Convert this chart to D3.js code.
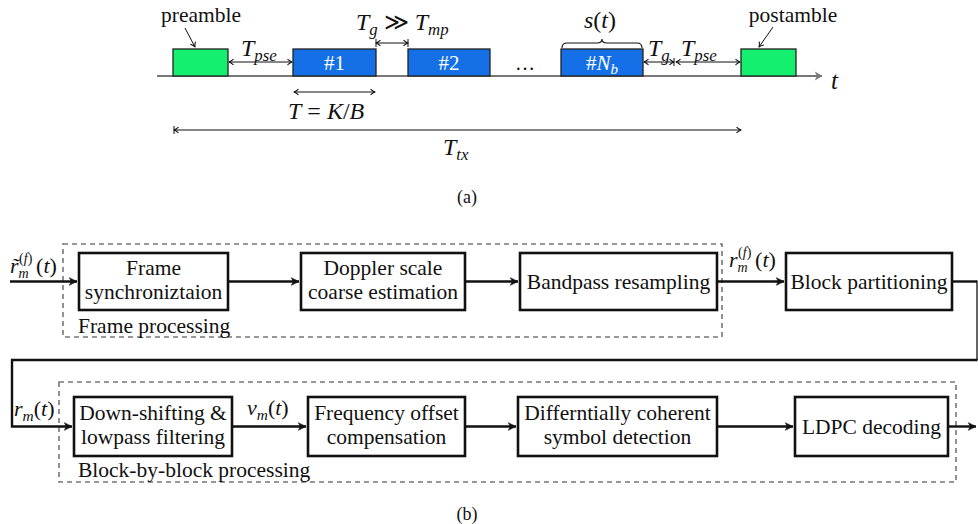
<!DOCTYPE html>
<html><head><meta charset="utf-8">
<script src="https://cdn.jsdelivr.net/npm/d3@7"></script>
<style>
html,body{margin:0;padding:0;background:#fff;}
svg text{font-family:'Liberation Serif','DejaVu Serif','Noto Serif',serif;fill:#111;}
.it{font-style:italic;}
</style></head><body>
<svg id="chart" width="978" height="524"></svg>
<script>
// ---------- DATA ----------
// (a) frame structure on time axis (time units)
const timeAxisRange = [0, 667];
const segNames = ["preamble", "#1", "#2", "#Nb", "postamble"];
const segStart = [16, 136, 251, 404, 584];
const segEnd   = [71, 219, 333, 486, 639];
const segKind  = ["pilot", "block", "block", "block", "pilot"];
const guardEnd = 518;
// (b) processing chain
const row1Stages = [["Frame", "synchroniztaion"], ["Doppler scale", "coarse estimation"], ["Bandpass resampling"], ["Block partitioning"]];
const row2Stages = [["Down-shifting &", "lowpass filtering"], ["Frequency offset", "compensation"], ["Differntially coherent", "symbol detection"], ["LDPC decoding"]];
const groupLabels = ["Frame processing", "Block-by-block processing"];
const captions = ["(a)", "(b)"];

// ---------- LAYOUT ----------
const row1X = [[79, 228], [301, 465], [520, 717], [786, 952]];
const row2X = [[74, 232], [308, 465], [518, 717], [795, 948]];
const row1Y = [253, 310], row2Y = [397, 456];
const FS = 21.5;

const svg = d3.select("#chart");
const x = d3.scaleLinear().domain(timeAxisRange).range([157, 824]);
const COL = {pilot: "#14ef6e", block: "#1570e8"};

const defs = svg.append("defs");
function marker(id, path, w, color, fill) {
  defs.append("marker").attr("id", id).attr("viewBox", "-8 -5 10 10")
    .attr("refX", 0).attr("refY", 0).attr("markerWidth", w).attr("markerHeight", w)
    .attr("markerUnits", "userSpaceOnUse").attr("orient", "auto-start-reverse")
    .append("path").attr("d", path).attr("fill", fill ? color : "none")
    .attr("stroke", color).attr("stroke-width", fill ? 0.5 : 1.2).attr("stroke-linejoin", "round");
}
marker("thin", "M-5,-3.2 Q-2,-0.5 0,0 Q-2,0.5 -5,3.2", 9, "#111", false);
marker("thick", "M-7,-3.5 L0,0 L-7,3.5 L-5.2,0 Z", 11, "#111", true);
marker("gray", "M-6,-3.5 L0,0 L-6,3.5 L-4.5,0 Z", 11, "#777", true);

function dimArrow(x0, x1, y, t0, t1) {
  svg.append("line").attr("x1", x0).attr("x2", x1).attr("y1", y).attr("y2", y)
    .attr("stroke", "#111").attr("stroke-width", 1)
    .attr("marker-start", "url(#thin)").attr("marker-end", "url(#thin)");
  [[t0, x0], [t1, x1]].forEach(([t, xx]) => {
    if (t) svg.append("line").attr("x1", xx).attr("x2", xx).attr("y1", y - 4).attr("y2", y + 4)
      .attr("stroke", "#111").attr("stroke-width", 1);
  });
}
function mathText(xx, y, size, parts) {
  const t = svg.append("text").attr("x", xx).attr("y", y).attr("font-size", size);
  parts.forEach(p => {
    const ts = t.append("tspan").text(p.t);
    if (p.it) ts.attr("font-style", "italic");
    if (p.sub) ts.attr("font-size", size * 0.7).attr("dy", size * 0.22);
    if (p.back) ts.attr("dy", -size * 0.22);
  });
  return t;
}

// ---------- (a) ----------
svg.append("line").attr("x1", x(0)).attr("x2", x(timeAxisRange[1]) - 2).attr("y1", 76).attr("y2", 76)
  .attr("stroke", "#777").attr("stroke-width", 2).attr("marker-end", "url(#gray)");
svg.append("text").attr("class", "it").attr("x", 831).attr("y", 89).attr("font-size", 25).text("t");

segNames.forEach((n, i) => {
  svg.append("rect").attr("x", x(segStart[i])).attr("y", 49)
    .attr("width", x(segEnd[i]) - x(segStart[i])).attr("height", 27)
    .attr("fill", COL[segKind[i]]).attr("stroke", "#222").attr("stroke-width", 1.3);
  const cx = (x(segStart[i]) + x(segEnd[i])) / 2;
  if (segKind[i] === "block") {
    const t = svg.append("text").attr("x", cx).attr("y", 70).attr("font-size", 21)
      .attr("text-anchor", "middle").style("fill", "#fff");
    if (n === "#Nb") {
      t.append("tspan").text("#");
      t.append("tspan").attr("font-style", "italic").text("N");
      t.append("tspan").attr("font-style", "italic").attr("font-size", 15).attr("dy", 4).text("b");
    } else t.text(n);
  }
});
svg.append("text").attr("x", 525).attr("y", 70).attr("font-size", 20).attr("text-anchor", "middle").text("…");

svg.append("text").attr("x", 201).attr("y", 22).attr("font-size", FS).attr("text-anchor", "middle").text("preamble");
svg.append("text").attr("x", 793).attr("y", 22).attr("font-size", FS).attr("text-anchor", "middle").text("postamble");
svg.append("line").attr("x1", 185).attr("y1", 28).attr("x2", 195).attr("y2", 47)
  .attr("stroke", "#111").attr("stroke-width", 1).attr("marker-end", "url(#thin)");
svg.append("line").attr("x1", 773).attr("y1", 27).attr("x2", 759).attr("y2", 47)
  .attr("stroke", "#111").attr("stroke-width", 1).attr("marker-end", "url(#thin)");

dimArrow(x(segEnd[0]) + 1, x(segStart[1]) - 1, 62, false, false);
mathText(241, 56, 24, [{t: "T", it: 1}, {t: "pse", it: 1, sub: 1}]);
dimArrow(x(segEnd[1]), x(segStart[2]), 43, true, true);
mathText(356, 30, 24, [{t: "T", it: 1}, {t: "g", it: 1, sub: 1}, {t: " ≫ ", back: 1}, {t: "T", it: 1}, {t: "mp", it: 1, sub: 1}]);
dimArrow(x(segStart[1]) + 1, x(segEnd[1]) - 1, 92, false, false);
mathText(288, 119, 24, [{t: "T", it: 1}, {t: " = "}, {t: "K", it: 1}, {t: "/"}, {t: "B", it: 1}]);
dimArrow(x(segEnd[3]) + 1, x(guardEnd) - 1, 62, false, true);
mathText(648, 56, 24, [{t: "T", it: 1}, {t: "g", it: 1, sub: 1}]);
dimArrow(x(guardEnd) + 1, x(segStart[4]) - 1, 62, false, false);
mathText(681, 56, 24, [{t: "T", it: 1}, {t: "pse", it: 1, sub: 1}]);
dimArrow(x(segStart[0]) + 1, x(segStart[4]), 130, true, false);
mathText(443, 155, 24, [{t: "T", it: 1}, {t: "tx", it: 1, sub: 1}]);

{
  const x0 = x(segStart[3]) + 1, x1 = x(segEnd[3]) - 1, m = (x0 + x1) / 2, y = 43;
  svg.append("path").attr("d", `M${x0},${y + 5} Q${x0},${y} ${x0 + 5},${y} L${m - 5},${y} Q${m},${y} ${m},${y - 4} Q${m},${y} ${m + 5},${y} L${x1 - 5},${y} Q${x1},${y} ${x1},${y + 5}`)
    .attr("fill", "none").attr("stroke", "#111").attr("stroke-width", 1.1);
  mathText(584, 28, 24, [{t: "s", it: 1}, {t: "("}, {t: "t", it: 1}, {t: ")"}]);
}
svg.append("text").attr("x", 467).attr("y", 203).attr("font-size", 18).attr("text-anchor", "middle").text(captions[0]);

// ---------- (b) ----------
function dashBox(x0, y0, x1, y1) {
  svg.append("rect").attr("x", x0).attr("y", y0).attr("width", x1 - x0).attr("height", y1 - y0)
    .attr("fill", "none").attr("stroke", "#777").attr("stroke-width", 1.6).attr("stroke-dasharray", "5,4");
}
dashBox(63, 244, 722, 337);
dashBox(59, 382, 956, 482);
svg.append("text").attr("x", 78).attr("y", 333).attr("font-size", FS).text(groupLabels[0]);
svg.append("text").attr("x", 78).attr("y", 477).attr("font-size", FS).text(groupLabels[1]);

function stageRow(stages, xs, ys) {
  const cy = (ys[0] + ys[1]) / 2;
  stages.forEach((lines, i) => {
    const [x0, x1] = xs[i];
    svg.append("rect").attr("x", x0).attr("y", ys[0]).attr("width", x1 - x0).attr("height", ys[1] - ys[0])
      .attr("fill", "#fff").attr("stroke", "#111").attr("stroke-width", 2.6);
    const t = svg.append("text").attr("x", (x0 + x1) / 2).attr("font-size", FS).attr("text-anchor", "middle");
    if (lines.length === 1) t.attr("y", cy + 7).text(lines[0]);
    else lines.forEach((l, k) => t.append("tspan").attr("x", (x0 + x1) / 2).attr("y", cy - 7 + k * 24).text(l));
  });
  return cy;
}
const cy1 = stageRow(row1Stages, row1X, row1Y);
const cy2 = stageRow(row2Stages, row2X, row2Y);

function flow(pts) {
  svg.append("path").attr("d", d3.line()(pts)).attr("fill", "none").attr("stroke", "#111")
    .attr("stroke-width", 2.4).attr("marker-end", "url(#thick)");
}
flow([[10, cy1], [row1X[0][0] - 2, cy1]]);
for (let i = 0; i < 3; i++) flow([[row1X[i][1], cy1], [row1X[i + 1][0] - 2, cy1]]);
for (let i = 0; i < 3; i++) flow([[row2X[i][1], cy2], [row2X[i + 1][0] - 2, cy2]]);
flow([[row2X[3][1], cy2], [976, cy2]]);
svg.append("path").attr("d", d3.line()([[row1X[3][1], cy1], [977, cy1]])).attr("fill", "none").attr("stroke", "#111").attr("stroke-width", 2.4);
svg.append("line").attr("x1", 977).attr("x2", 977).attr("y1", cy1 - 1).attr("y2", 360).attr("stroke", "#111").attr("stroke-width", 1.3);
flow([[977.5, 360], [12, 360], [12, cy2], [row2X[0][0] - 2, cy2]]);

// signal labels r~_m^(f)(t), r_m^(f)(t): one text element with tspans
function sigLabel(xx, y, tilde) {
  const s = 22;
  const t = svg.append("text").attr("x", xx).attr("y", y).attr("font-size", s);
  const base = t.append("tspan").attr("font-style", "italic").text(tilde ? "r\u0303" : "r");
  const w = base.node().getComputedTextLength();
  t.append("tspan").attr("font-style", "italic").attr("font-size", 14).attr("dy", 5).text("m");
  // superscript placed back over the subscript
  const supX = xx + w + 0.5;
  t.append("tspan").attr("x", supX).attr("dy", -15).attr("font-size", 14).text("(");
  t.append("tspan").attr("font-size", 14).attr("font-style", "italic").text("f");
  t.append("tspan").attr("font-size", 14).text(")");
  t.append("tspan").attr("x", supX + 17).attr("dy", 10).text("(");
  t.append("tspan").attr("font-style", "italic").text("t");
  t.append("tspan").text(")");
}
sigLabel(10, 273, true);
sigLabel(729, 267, false);
mathText(14, 416, 22, [{t: "r", it: 1}, {t: "m", it: 1, sub: 1}, {t: "(", back: 1}, {t: "t", it: 1}, {t: ")"}]);
mathText(247, 415, 22, [{t: "v", it: 1}, {t: "m", it: 1, sub: 1}, {t: "(", back: 1}, {t: "t", it: 1}, {t: ")"}]);

svg.append("text").attr("x", 467).attr("y", 520).attr("font-size", 18).attr("text-anchor", "middle").text(captions[1]);
</script></body></html>
